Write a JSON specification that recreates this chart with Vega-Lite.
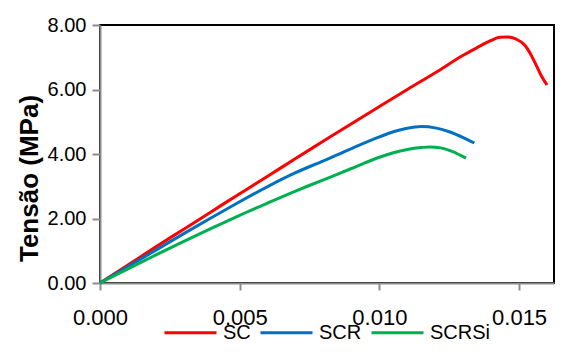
{
  "$schema": "https://vega.github.io/schema/vega-lite/v6.json",
  "autosize": {"type": "none"},
  "padding": {"left": 100, "top": 25, "right": 34, "bottom": 73},
  "width": 454,
  "height": 258,
  "background": "white",
  "config": {
    "view": {"stroke": "black", "strokeWidth": 2},
    "font": "Liberation Sans",
    "axis": {"grid": false, "labelFlush": false, "domainColor": "#8c8c8c", "domainWidth": 2, "tickColor": "#8c8c8c", "tickWidth": 2, "labelColor": "black", "labelFont": "Liberation Sans", "labelFontSize": 22}
  },
  "data": {"values": [
    {"s": "SC", "x": 0, "y": 0},
    {"s": "SC", "x": 0.001, "y": 0.56},
    {"s": "SC", "x": 0.002, "y": 1.12},
    {"s": "SC", "x": 0.003, "y": 1.67},
    {"s": "SC", "x": 0.004, "y": 2.22},
    {"s": "SC", "x": 0.005, "y": 2.77},
    {"s": "SC", "x": 0.006, "y": 3.31},
    {"s": "SC", "x": 0.007, "y": 3.86},
    {"s": "SC", "x": 0.008, "y": 4.4},
    {"s": "SC", "x": 0.009, "y": 4.94},
    {"s": "SC", "x": 0.010, "y": 5.47},
    {"s": "SC", "x": 0.011, "y": 6.0},
    {"s": "SC", "x": 0.012, "y": 6.52},
    {"s": "SC", "x": 0.013, "y": 7.06},
    {"s": "SC", "x": 0.0135, "y": 7.3},
    {"s": "SC", "x": 0.014, "y": 7.52},
    {"s": "SC", "x": 0.0143, "y": 7.62},
    {"s": "SC", "x": 0.0146, "y": 7.63},
    {"s": "SC", "x": 0.0149, "y": 7.56},
    {"s": "SC", "x": 0.0152, "y": 7.38},
    {"s": "SC", "x": 0.0154, "y": 7.12},
    {"s": "SC", "x": 0.0156, "y": 6.78},
    {"s": "SC", "x": 0.0158, "y": 6.42},
    {"s": "SC", "x": 0.016, "y": 6.14},
    {"s": "SCR", "x": 0, "y": 0},
    {"s": "SCR", "x": 0.001, "y": 0.51},
    {"s": "SCR", "x": 0.002, "y": 1.02},
    {"s": "SCR", "x": 0.003, "y": 1.53},
    {"s": "SCR", "x": 0.004, "y": 2.03},
    {"s": "SCR", "x": 0.005, "y": 2.52},
    {"s": "SCR", "x": 0.006, "y": 2.99},
    {"s": "SCR", "x": 0.007, "y": 3.42},
    {"s": "SCR", "x": 0.008, "y": 3.79},
    {"s": "SCR", "x": 0.009, "y": 4.17},
    {"s": "SCR", "x": 0.010, "y": 4.53},
    {"s": "SCR", "x": 0.0105, "y": 4.69},
    {"s": "SCR", "x": 0.011, "y": 4.8},
    {"s": "SCR", "x": 0.0115, "y": 4.85},
    {"s": "SCR", "x": 0.012, "y": 4.81},
    {"s": "SCR", "x": 0.0125, "y": 4.69},
    {"s": "SCR", "x": 0.013, "y": 4.51},
    {"s": "SCR", "x": 0.0134, "y": 4.34},
    {"s": "SCRSi", "x": 0, "y": 0},
    {"s": "SCRSi", "x": 0.001, "y": 0.44},
    {"s": "SCRSi", "x": 0.002, "y": 0.87},
    {"s": "SCRSi", "x": 0.003, "y": 1.29},
    {"s": "SCRSi", "x": 0.004, "y": 1.7},
    {"s": "SCRSi", "x": 0.005, "y": 2.1},
    {"s": "SCRSi", "x": 0.006, "y": 2.48},
    {"s": "SCRSi", "x": 0.007, "y": 2.85},
    {"s": "SCRSi", "x": 0.008, "y": 3.2},
    {"s": "SCRSi", "x": 0.009, "y": 3.55},
    {"s": "SCRSi", "x": 0.0095, "y": 3.73},
    {"s": "SCRSi", "x": 0.010, "y": 3.9},
    {"s": "SCRSi", "x": 0.0105, "y": 4.04},
    {"s": "SCRSi", "x": 0.011, "y": 4.14},
    {"s": "SCRSi", "x": 0.0115, "y": 4.2},
    {"s": "SCRSi", "x": 0.0118, "y": 4.22},
    {"s": "SCRSi", "x": 0.0122, "y": 4.19},
    {"s": "SCRSi", "x": 0.0126, "y": 4.08},
    {"s": "SCRSi", "x": 0.0131, "y": 3.87}
  ]},
  "mark": {"type": "line", "strokeWidth": 3, "interpolate": "monotone"},
  "encoding": {
    "x": {"field": "x", "type": "quantitative",
      "scale": {"domain": [0, 0.01625], "nice": false, "zero": true},
      "axis": {"title": null, "values": [0, 0.005, 0.01, 0.015], "format": ".3f", "tickSize": 7, "labelPadding": 17}},
    "y": {"field": "y", "type": "quantitative",
      "scale": {"domain": [0, 8], "nice": false},
      "axis": {"title": "Tensão (MPa)", "values": [0, 2, 4, 6, 8], "format": ".2f", "tickSize": 8, "labelPadding": 6, "labelFontSize": 20,
        "titleFont": "Liberation Sans", "titleFontSize": 26, "titleFontWeight": "bold", "titleColor": "black",
        "titleX": -71, "titleY": 153, "titleBaseline": "middle", "titleAlign": "center"}},
    "color": {"field": "s", "type": "nominal",
      "scale": {"domain": ["SC", "SCR", "SCRSi"], "range": ["#ff0000", "#0070c0", "#00b050"]},
      "legend": {"title": null, "orient": "none", "legendX": 63, "legendY": 280, "direction": "horizontal",
        "symbolType": "stroke", "symbolSize": 2704, "symbolStrokeWidth": 3, "labelOffset": 5, "columnPadding": 3, "padding": 0,
        "labelFont": "Liberation Sans", "labelFontSize": 20, "labelColor": "black"}}
  }
}
